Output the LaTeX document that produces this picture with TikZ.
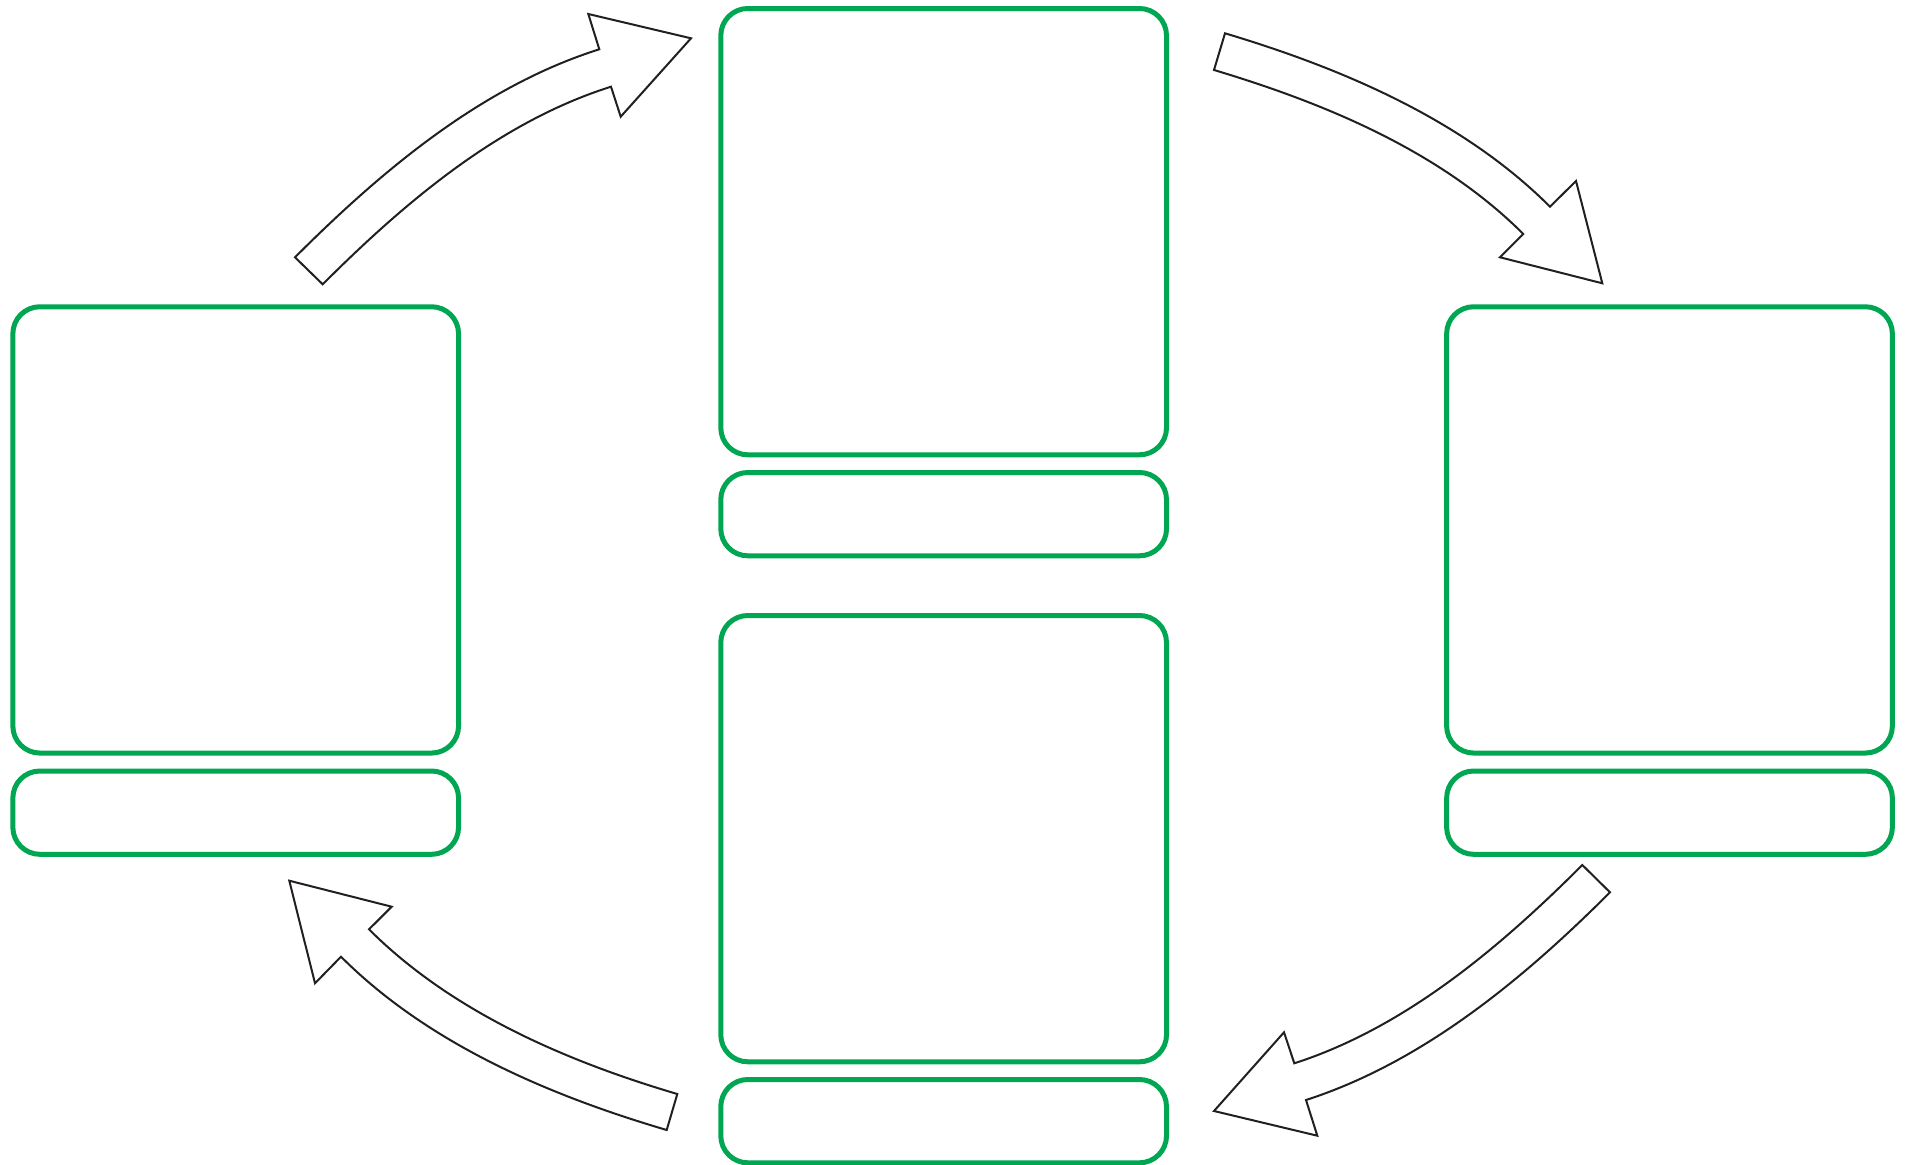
\documentclass[tikz,border=0pt]{standalone}
\definecolor{boxgreen}{RGB}{0,166,81}
\definecolor{arrowgray}{RGB}{35,31,32}
\begin{document}
\begin{tikzpicture}[x=1pt,y=-1pt,
  panel/.style={draw=boxgreen, line width=5pt, rounded corners=27pt, inner sep=0pt, outer sep=0pt, minimum width=445.7pt},
  bigpanel/.style={panel, minimum height=446.3pt},
  smallpanel/.style={panel, minimum height=83.3pt},
  blockarrow/.style={draw=arrowgray, fill=white, line width=2pt, line join=miter}]
\useasboundingbox (0,0) rectangle (1907,1165);
% centre column
\node[bigpanel]   (tc)  at (943.65,231.65) {};
\node[smallpanel] (tcs) at (943.65,514.15) {};
\node[bigpanel]   (bc)  at (943.65,838.65) {};
\node[smallpanel] (bcs) at (943.65,1121.15) {};
% left column
\node[bigpanel]   (lb)  at (235.7,529.9) {};
\node[smallpanel] (ls)  at (235.7,812.65) {};
% right column
\node[bigpanel]   (rb)  at (1669.5,529.9) {};
\node[smallpanel] (rs)  at (1669.5,812.65) {};
% curved block arrows
\draw[blockarrow] (295,257.3) .. controls (382,170.3) and (482,86.3) .. (599.3,49.3)
  -- (588.3,14) -- (691,38.3) -- (620.7,116.7) -- (611,86.7)
  .. controls (499.9,121.7) and (405.1,201.9) .. (322.7,284.3) -- cycle;
\draw[blockarrow] (1225,33.3) .. controls (1342.6,68.5) and (1463.2,119.9) .. (1550,206.7)
  -- (1576,181) -- (1602.3,283.3) -- (1500,257.3) -- (1523.3,234)
  .. controls (1440.8,151.5) and (1325.8,103.5) .. (1214,70) -- cycle;
\draw[blockarrow] (289.3,880.7) -- (391.7,906.7) -- (369,929.3)
  .. controls (451.4,1011.7) and (565.6,1061) .. (677.3,1094) -- (666.7,1130)
  .. controls (548.7,1095.2) and (428,1043.7) .. (341,956.7) -- (315,983.3) -- cycle;
\draw[blockarrow] (1610,892.3) .. controls (1523.2,979.1) and (1422.8,1062.3) .. (1306,1100)
  -- (1317.3,1135.7) -- (1214,1111) -- (1284,1032.3) -- (1294.3,1063.3)
  .. controls (1405.3,1027.5) and (1499.9,947.4) .. (1582.3,865) -- cycle;
\end{tikzpicture}
\end{document}
